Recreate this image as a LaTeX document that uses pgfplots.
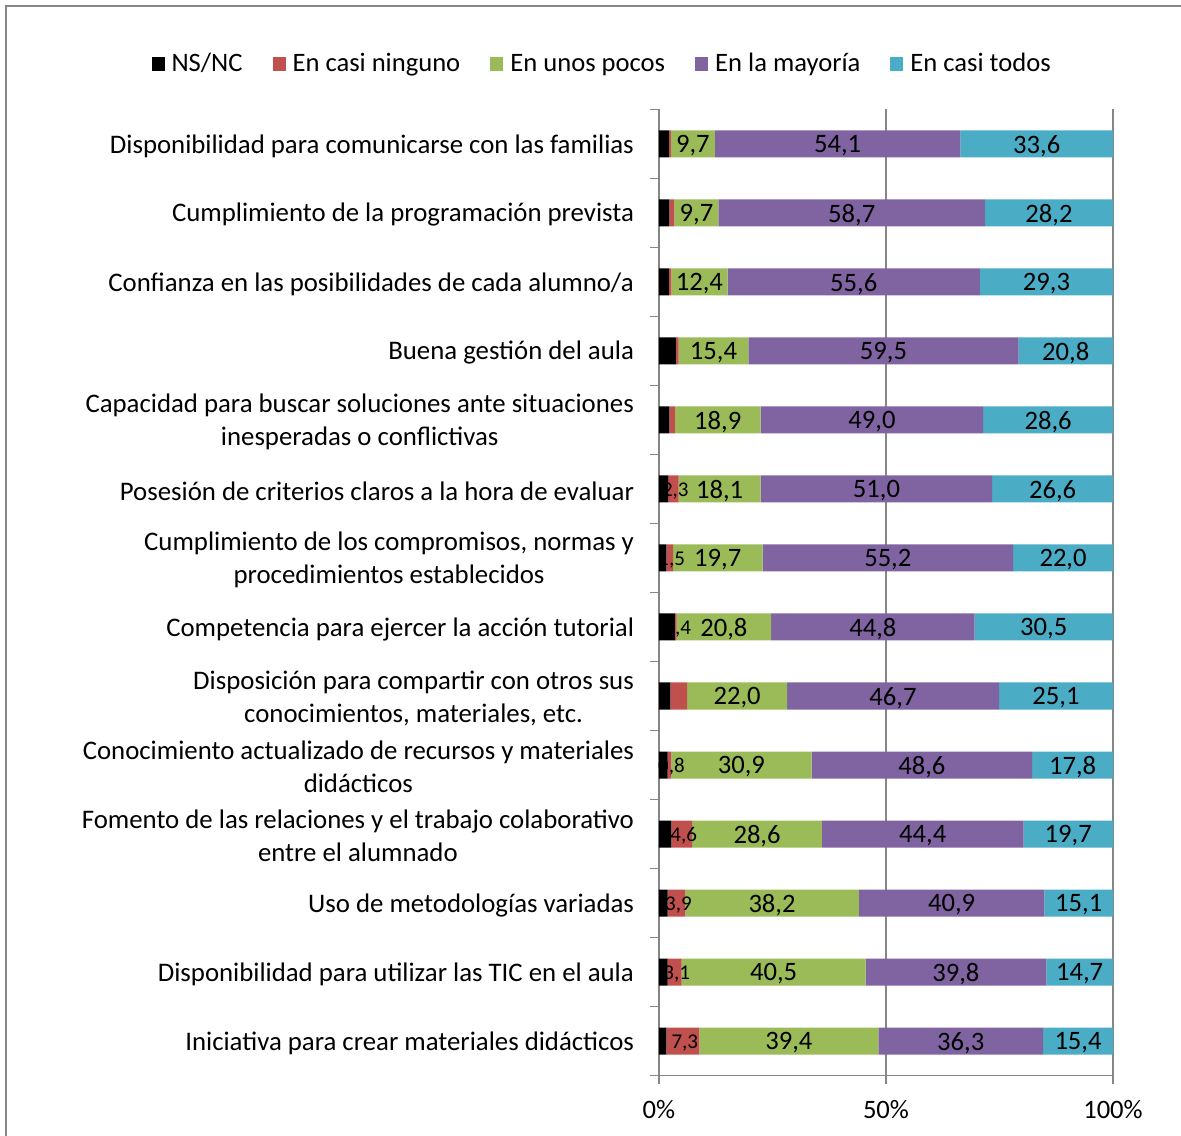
\documentclass[border=0pt]{standalone}
\usepackage{fontspec}
\setmainfont{Carlito}
\usepackage{pgfplots}
\usepackage{pgfplotstable}
\pgfplotsset{compat=1.18}
\definecolor{cns}{HTML}{000000}
\definecolor{cred}{HTML}{C0504D}
\definecolor{cgreen}{HTML}{9BBB59}
\definecolor{cpurple}{HTML}{8064A2}
\definecolor{ccyan}{HTML}{4BACC6}
\definecolor{axgray}{HTML}{868686}
\pgfplotstableread{
y  ns  red green purple cyan redlab
13 2.2 0.4 9.7  54.1 33.6 {}
12 2.3 1.1 9.7  58.7 28.2 {}
11 2.2 0.5 12.4 55.6 29.3 {}
10 3.7 0.6 15.4 59.5 20.8 {}
9  2.3 1.2 18.9 49.0 28.6 {}
8  2.0 2.3 18.1 51.0 26.6 2,3
7  1.6 1.5 19.7 55.2 22.0 1,5
6  3.5 0.4 20.8 44.8 30.5 0,4
5  2.5 3.7 22.0 46.7 25.1 {}
4  1.9 0.8 30.9 48.6 17.8 0,8
3  2.7 4.6 28.6 44.4 19.7 4,6
2  1.9 3.9 38.2 40.9 15.1 3,9
1  1.9 3.1 40.5 39.8 14.7 3,1
0  1.6 7.3 39.4 36.3 15.4 7,3
}\data
\newcommand{\fmt}[1]{\pgfmathprintnumber[fixed,fixed zerofill,precision=1,use comma,assume math mode=true]{#1}}
\begin{document}
\begin{tikzpicture}
\path[use as bounding box] (-329.5pt,-29.75pt) rectangle (261pt,537.75pt);
\draw[axgray,line width=1pt] (-326.5pt,-40pt) -- (-326.5pt,534.75pt) -- (270pt,534.75pt);
\begin{axis}[
  at={(0pt,0pt)}, anchor=south west,
  scale only axis, width=227pt, height=483pt,
  xbar stacked, bar width=13.5pt,
  xmin=0, xmax=100, ymin=-0.5, ymax=13.5,
  axis lines*=left,
  axis line style={axgray, line width=0.8pt},
  xtick={0,50,100},
  xticklabel={\pgfmathprintnumber[assume math mode=true]{\tick}\%},
  xmajorgrids, grid style={axgray, line width=0.8pt},
  major x tick style={axgray, line width=0.8pt},
  xtick align=outside, major tick length=4pt,
  ytick={0,...,13},
  major y tick style={draw=none},
  minor ytick={-0.5,0.5,...,13.5},
  minor y tick style={axgray, line width=0.8pt},
  ytick align=outside, minor tick length=4.5pt,
  yticklabels={
    Iniciativa para crear materiales didácticos,
    Disponibilidad para utilizar las TIC en el aula,
    Uso de metodologías variadas,
    {Fomento de las relaciones y el trabajo colaborativo\\entre el alumnado},
    {Conocimiento actualizado de recursos y materiales\\didácticos},
    {Disposición para compartir con otros sus\\conocimientos, materiales, etc.},
    Competencia para ejercer la acción tutorial,
    {Cumplimiento de los compromisos, normas y\\procedimientos establecidos},
    Posesión de criterios claros a la hora de evaluar,
    {Capacidad para buscar soluciones ante situaciones\\inesperadas o conflictivas},
    Buena gestión del aula,
    Confianza en las posibilidades de cada alumno/a,
    Cumplimiento de la programación prevista,
    Disponibilidad para comunicarse con las familias},
  yticklabel style={align=center, font={\fontsize{13.4}{16.5}\selectfont}, xshift=-5pt, yshift=-1pt},
  xticklabel style={font=\fontsize{13.3}{15}\selectfont, yshift=-5pt},
  legend columns=5,
  legend style={draw=none, at={(-0.123,1.047)}, anchor=center,
    font=\fontsize{13.3}{15}\selectfont,
    /tikz/every odd column/.append style={column sep=1.5pt},
    /tikz/every even column/.append style={column sep=13pt}},
  legend image code/.code={\fill[#1] (0pt,-3.4pt) rectangle (6.5pt,3.4pt);},
  every node near coord/.append style={font=\fontsize{13.3}{15}\selectfont, anchor=center, text=black, yshift=-1pt},
]
\addplot[fill=cns, draw=none] table[x=ns, y=y] {\data};
\addplot[fill=cred, draw=none,
  point meta=explicit symbolic,
  nodes near coords,
  every node near coord/.append style={font=\fontsize{10.5}{12}\selectfont, xshift=1pt}]
  table[x=red, y=y, meta=redlab] {\data};
\addplot[fill=cgreen, draw=none,
  point meta=explicit, nodes near coords={\fmt{\pgfplotspointmeta}}]
  table[x=green, y=y, meta=green] {\data};
\addplot[fill=cpurple, draw=none,
  point meta=explicit, nodes near coords={\fmt{\pgfplotspointmeta}}]
  table[x=purple, y=y, meta=purple] {\data};
\addplot[fill=ccyan, draw=none,
  point meta=explicit, nodes near coords={\fmt{\pgfplotspointmeta}}]
  table[x=cyan, y=y, meta=cyan] {\data};
\legend{NS/NC, En casi ninguno, En unos pocos, En la mayoría, En casi todos}
\end{axis}
\end{tikzpicture}
\end{document}
